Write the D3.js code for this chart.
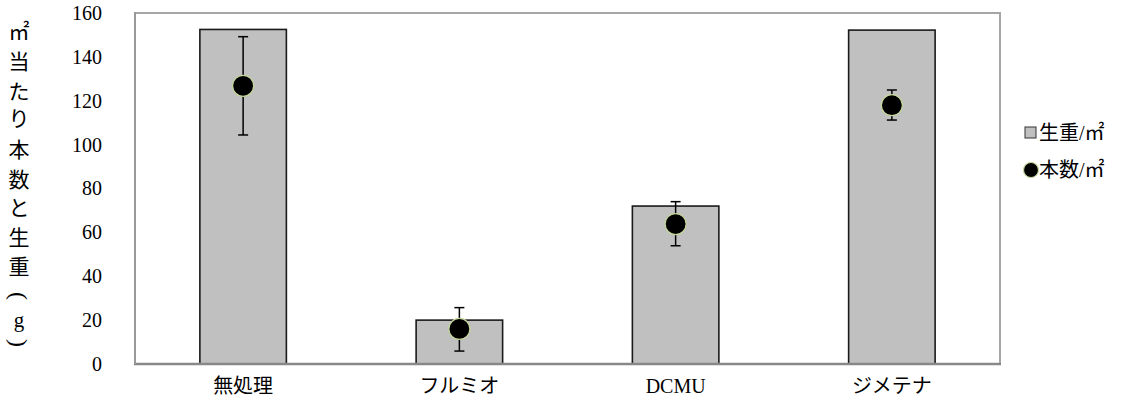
<!DOCTYPE html>
<html><head><meta charset="utf-8">
<script src="https://cdn.jsdelivr.net/npm/d3@7"></script>
<style>
body{margin:0;background:#fff;}
svg{display:block;}
text{font-family:"Liberation Serif","Noto Sans CJK JP",serif;fill:#000;}
</style></head>
<body><svg id="c" width="1139" height="410"></svg>
<script>
const categories = ["無処理","フルミオ","DCMU","ジメテナ"];
const weight = [152.5, 20, 72, 152.2];      // 生重/㎡ (bars)
const count = [126.8, 16, 63.8, 118];       // 本数/㎡ (points)
const errHigh = [149.2, 25.7, 74, 124.9];
const errLow = [104.4, 5.9, 53.9, 111.2];
const yTicks = [0,20,40,60,80,100,120,140,160];
const legendLabels = ["生重/㎡","本数/㎡"];
const yTitle = ["㎡","当","た","り","本","数","と","生","重","(","g",")"];

const svg = d3.select("#c");
const L=135, R=1000, T=13, B=364;
const x = d3.scaleBand().domain(categories).range([L,R]).paddingInner(0.6).paddingOuter(0.3);
const y = d3.scaleLinear().domain([0,160]).range([B,T]);

// plot border
svg.append("rect").attr("x",L).attr("y",T).attr("width",R-L).attr("height",B-T)
  .attr("fill","none").attr("stroke","#a6a6a6").attr("stroke-width",2);

// bars
svg.selectAll(".bar").data(categories).join("rect")
  .attr("x",d=>x(d)).attr("width",x.bandwidth())
  .attr("y",(d,i)=>y(weight[i])).attr("height",(d,i)=>B-y(weight[i]))
  .attr("fill","#c0c0c0").attr("stroke","#1a1a1a").attr("stroke-width",1.6);

// bottom axis line
svg.append("line").attr("x1",L-1).attr("x2",R+1).attr("y1",B).attr("y2",B)
  .attr("stroke","#888").attr("stroke-width",2.5);
svg.append("line").attr("x1",L).attr("x2",L).attr("y1",T-1).attr("y2",B)
  .attr("stroke","#999").attr("stroke-width",2);

// y axis labels
const yAxis = d3.axisLeft(y).tickValues(yTicks).tickSize(0).tickPadding(33);
const gy = svg.append("g").attr("transform",`translate(${L},0)`).call(yAxis);
gy.select(".domain").remove();
gy.selectAll("text").attr("font-size",20).attr("font-family","Liberation Serif").attr("fill","#000");

// x axis labels
const xAxis = d3.axisBottom(x).tickSize(0).tickPadding(15);
const gx = svg.append("g").attr("transform",`translate(0,${B})`).call(xAxis);
gx.select(".domain").remove();
gx.selectAll("text").attr("font-size",20).attr("font-family","Liberation Serif, Noto Sans CJK JP").attr("fill","#000");

// error bars
const cx = d=>x(d)+x.bandwidth()/2;
const eb = svg.append("g").attr("stroke","#000").attr("stroke-width",1.5);
categories.forEach((d,i)=>{
  eb.append("line").attr("x1",cx(d)).attr("x2",cx(d)).attr("y1",y(errHigh[i])).attr("y2",y(errLow[i]));
  eb.append("line").attr("x1",cx(d)-5).attr("x2",cx(d)+5).attr("y1",y(errHigh[i])).attr("y2",y(errHigh[i]));
  eb.append("line").attr("x1",cx(d)-5).attr("x2",cx(d)+5).attr("y1",y(errLow[i])).attr("y2",y(errLow[i]));
});

// points
svg.selectAll(".pt").data(categories).join("circle")
  .attr("cx",cx).attr("cy",(d,i)=>y(count[i])).attr("r",10.5)
  .attr("fill","#000").attr("stroke","#c3d69b").attr("stroke-width",1.2);

// y title (vertical, stacked glyphs)
const titleY = [32,62,92,119,150,180,208,238,267,296,320,343];
svg.append("g").selectAll("text").data(yTitle).join("text")
  .attr("transform",(d,i)=>`translate(19,${titleY[i]})` + ((d==="("||d===")")?" rotate(90)":""))
  .attr("text-anchor","middle")
  .attr("dominant-baseline","central")
  .attr("font-size",(d)=>(d==="("||d===")")?24:21)
  .attr("font-family",(d)=>(d==="("||d===")"||d==="g")?"Liberation Serif":"Noto Sans CJK JP")
  .text(d=>d);

// legend
const lg = svg.append("g");
lg.append("rect").attr("x",1025).attr("y",127).attr("width",11).attr("height",11)
  .attr("fill","#c0c0c0").attr("stroke","#333").attr("stroke-width",1);
lg.append("circle").attr("cx",1031).attr("cy",170).attr("r",7.5)
  .attr("fill","#000").attr("stroke","#c3d69b").attr("stroke-width",1.2);
lg.selectAll(".lt").data(legendLabels).join("text")
  .attr("x",1039).attr("y",(d,i)=>133+i*37).attr("dominant-baseline","central")
  .attr("font-size",20).attr("font-family","Noto Sans CJK JP").text(d=>d);
</script></body></html>
